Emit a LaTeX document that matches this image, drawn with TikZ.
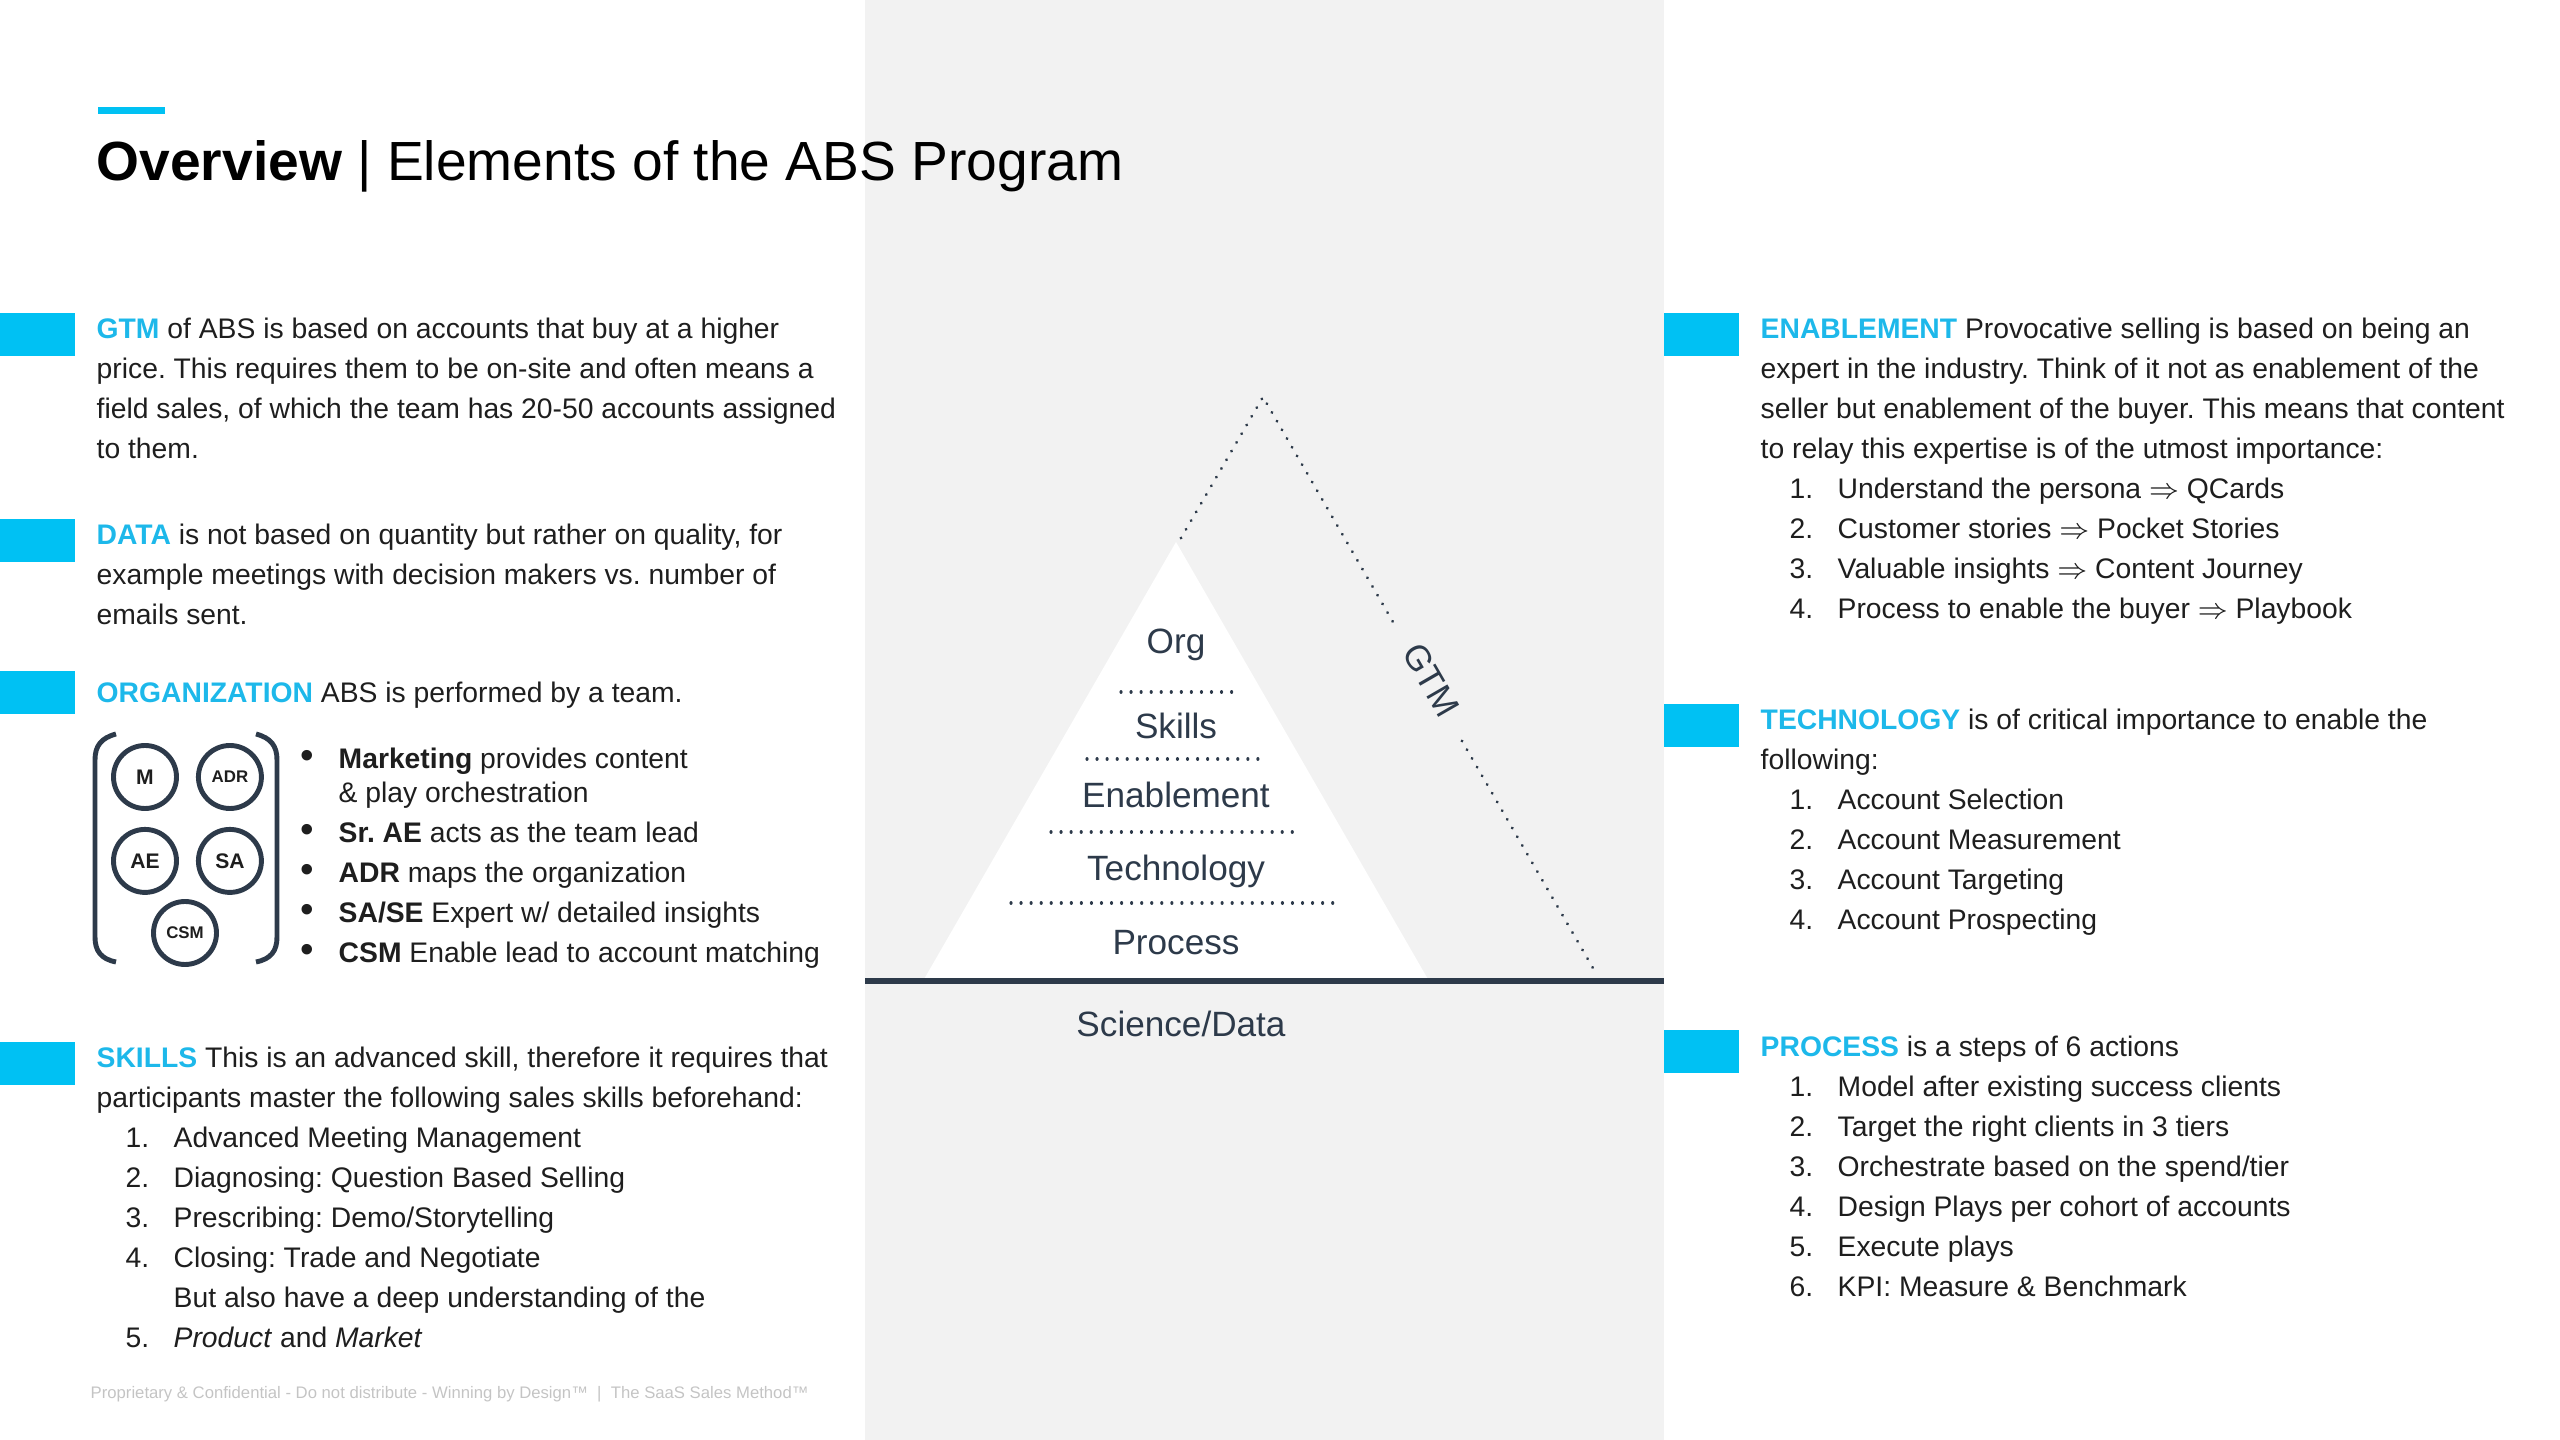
\documentclass[tikz,border=0pt]{standalone}
\usepackage{fontspec}
\setmainfont{Liberation Sans}
\usetikzlibrary{positioning}
\frenchspacing

\definecolor{abscyan}{HTML}{00C1F3}
\definecolor{abskey}{HTML}{1DB8EA}
\definecolor{absink}{HTML}{1E1E1E}
\definecolor{absslate}{HTML}{2D3A4A}
\definecolor{abspanel}{HTML}{F2F2F2}
\definecolor{absfoot}{HTML}{C4C4C4}

% one pixel of the 2560x1440 slide
\newlength{\pxu}
\setlength{\pxu}{0.1mm}
\newcommand{\abskw}[1]{\textcolor{abskey}{\bfseries #1}}
\newcommand{\absnum}[1]{\hspace*{29\pxu}\makebox[48\pxu][l]{#1}}
\newcommand{\absgap}{\hspace*{77\pxu}}
\newcommand{\absdot}{\makebox[38\pxu][l]{\fontsize{11}{11}\selectfont\textbullet}}

\tikzset{
  para/.style={anchor=north west, inner sep=0pt, align=left, text=absink,
    font=\fontsize{8.05}{11.38}\selectfont},
  tier/.style={anchor=base, inner sep=0pt, text=absslate,
    font=\fontsize{10}{12}\selectfont},
  member/.style={circle, draw=absslate, line width=1.4pt, minimum size=6.3mm,
    inner sep=0pt, text=absink, font=\bfseries\fontsize{6}{7}\selectfont},
  membersm/.style={member, font=\bfseries\fontsize{4.8}{6}\selectfont},
  sepdots/.style={absslate, line width=0.9pt, line cap=round,
    dash pattern=on 0.01pt off 2.85pt},
  bracket/.style={absslate, line width=1.4pt},
}

\begin{document}
\begin{tikzpicture}[x=0.1mm, y=-0.1mm]
  \useasboundingbox (0,0) rectangle (2560,1440);
  % centre panel
  \fill[abspanel] (865,0) rectangle (1664,1440);

  % title
  \fill[abscyan] (98,107) rectangle (165,114);
  \node[anchor=base west, inner sep=0pt, text=black,
    font=\fontsize{15.7}{19}\selectfont] (title) at (96,181)
    {\textbf{Overview} | Elements of the ABS Program};

  % cyan markers
  \foreach \y in {313,519,671,1042}
    \fill[abscyan] (0,\y) rectangle (75,\y+43);
  \foreach \y in {313,704,1030}
    \fill[abscyan] (1664,\y) rectangle (1739,\y+43);

  % left column
  \node[para] (gtm) at (96,310) {\strut\abskw{GTM} of ABS is based on accounts that buy at a higher\\
    price. This requires them to be on-site and often means a\\
    field sales, of which the team has 20-50 accounts assigned\\
    to them.};
  \node[para] (data) at (96,516) {\strut\abskw{DATA} is not based on quantity but rather on quality, for\\
    example meetings with decision makers vs. number of\\
    emails sent.};
  \node[para] (orga) at (96,674) {\strut\abskw{ORGANIZATION} ABS is performed by a team.};

  % team members
  \node[member] (m) at (145,777) {M};
  \node[membersm, right=1.7mm of m] (adr) {ADR};
  \node[member, below=1.6mm of m] (ae) {AE};
  \node[member, right=1.7mm of ae] (sa) {SA};
  \node[membersm] (csm) at (185,933) {CSM};
  \draw[bracket] (116,734) .. controls (101,738) and (95,746) .. (95,760)
    -- (95,937) .. controls (95,951) and (101,959) .. (116,962);
  \draw[bracket] (256,734) .. controls (271,738) and (277,746) .. (277,760)
    -- (277,937) .. controls (277,951) and (271,959) .. (256,962);

  \node[para] (roles) at (300,740) {\strut\absdot\textbf{Marketing} provides content\\[-6\pxu]
    \hspace*{38\pxu}\& play orchestration\\
    \absdot\textbf{Sr. AE} acts as the team lead\\
    \absdot\textbf{ADR} maps the organization\\
    \absdot\textbf{SA/SE} Expert w/ detailed insights\\
    \absdot\textbf{CSM} Enable lead to account matching};

  \node[para] (skills) at (96,1039) {\strut\abskw{SKILLS} This is an advanced skill, therefore it requires that\\
    participants master the following sales skills beforehand:\\
    \absnum{1.}Advanced Meeting Management\\
    \absnum{2.}Diagnosing: Question Based Selling\\
    \absnum{3.}Prescribing: Demo/Storytelling\\
    \absnum{4.}Closing: Trade and Negotiate\\
    \absgap But also have a deep understanding of the\\
    \absnum{5.}\textit{Product} and \textit{Market}};

  % pyramid
  \fill[white] (923,981) -- (1176,542) -- (1429,981) -- cycle;
  \draw[absslate, line width=1.45pt] (865,981) -- (1664,981);
  \draw[sepdots] (1181,538) -- (1263,397) -- (1393,622);
  \draw[sepdots] (1462,741) -- (1597,975);
  \draw[sepdots] (1121,692) -- (1241,692);
  \draw[sepdots] (1087,759) -- (1262,759);
  \draw[sepdots] (1051,832) -- (1299,832);
  \draw[sepdots] (1011,903) -- (1333,903);
  \node[tier] (org) at (1176,654) {Org};
  \node[tier] (skl) at (1176,739) {Skills};
  \node[tier] (enb) at (1176,808) {Enablement};
  \node[tier] (tec) at (1176,881) {Technology};
  \node[tier] (prc) at (1176,955) {Process};
  \node[tier] (sci) at (1181,1037) {Science/Data};
  \node[tier, anchor=center, rotate=-60] (gtmside) at (1431,680) {GTM};

  % right column
  \node[para] (enable) at (1760,310) {\strut\abskw{ENABLEMENT} Provocative selling is based on being an\\
    expert in the industry. Think of it not as enablement of the\\
    seller but enablement of the buyer. This means that content\\
    to relay this expertise is of the utmost importance:\\
    \absnum{1.}Understand the persona $\Rightarrow$ QCards\\
    \absnum{2.}Customer stories $\Rightarrow$ Pocket Stories\\
    \absnum{3.}Valuable insights $\Rightarrow$ Content Journey\\
    \absnum{4.}Process to enable the buyer $\Rightarrow$ Playbook};
  \node[para] (tech) at (1760,701) {\strut\abskw{TECHNOLOGY} is of critical importance to enable the\\
    following:\\
    \absnum{1.}Account Selection\\
    \absnum{2.}Account Measurement\\
    \absnum{3.}Account Targeting\\
    \absnum{4.}Account Prospecting};
  \node[para] (proc) at (1760,1028) {\strut\abskw{PROCESS} is a steps of 6 actions\\
    \absnum{1.}Model after existing success clients\\
    \absnum{2.}Target the right clients in 3 tiers\\
    \absnum{3.}Orchestrate based on the spend/tier\\
    \absnum{4.}Design Plays per cohort of accounts\\
    \absnum{5.}Execute plays\\
    \absnum{6.}KPI: Measure \& Benchmark};

  % footer
  \node[anchor=base west, inner sep=0pt, text=absfoot,
    font=\fontsize{4.75}{6}\selectfont] (foot) at (90,1398)
    {Proprietary \& Confidential - Do not distribute - Winning by Design™ \ | \ The SaaS Sales Method™};
\end{tikzpicture}
\end{document}
